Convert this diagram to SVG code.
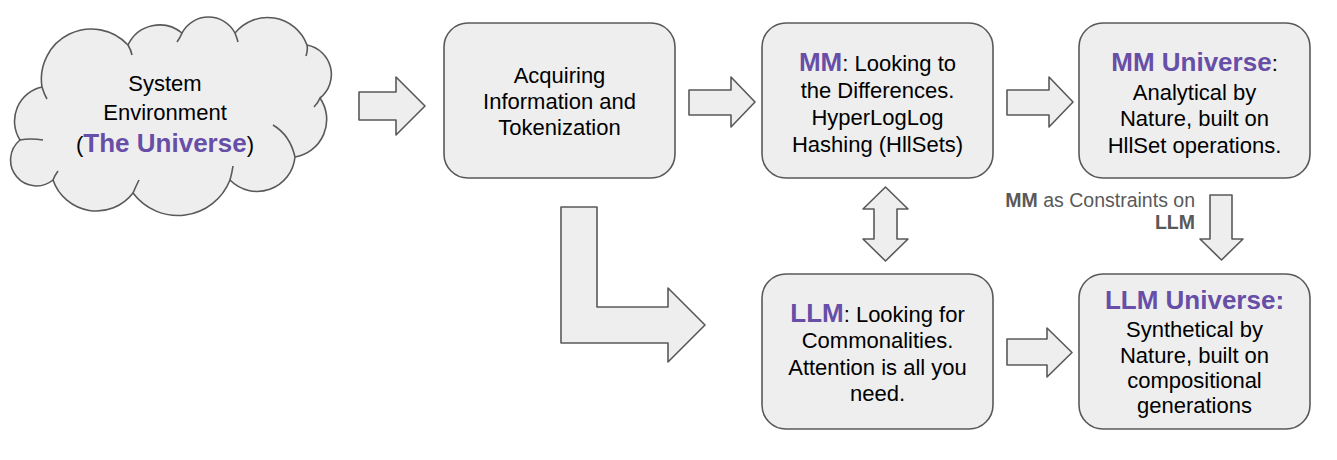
<svg xmlns="http://www.w3.org/2000/svg" width="1337" height="460" viewBox="0 0 1337 460">
<style>
.shape{fill:#eeeeee;stroke:#595959;stroke-width:1.6;stroke-linejoin:round}
.inner{fill:none;stroke:#595959;stroke-width:1.6}
.t{font-family:"Liberation Sans",Arial,sans-serif;font-size:22px;fill:#000;text-anchor:middle}
.p{fill:#674ea7;font-weight:bold;font-size:26px}
.lbl{font-family:"Liberation Sans",Arial,sans-serif;font-size:19.5px;fill:#595959;text-anchor:end}
</style>
<rect width="1337" height="460" fill="#ffffff"/>
<g id="cloud">
<path class="shape" d="M42,87 A50,50 0 0 1 128,45 A35,35 0 0 1 182,33 A30,30 0 0 1 235,33 A42,42 0 0 1 307,45 A30,30 0 0 1 320,98 A38,38 0 0 1 295,157 A38,38 0 0 1 230,180 A56,56 0 0 1 133,193 A46,46 0 0 1 53,180 A25,25 0 0 1 20,140 A35,35 0 0 1 42,87 Z"/>
<path class="inner" d="M128,45 Q131,50 132,55 M182,33 Q180,38 177,42 M235,33 Q237,38 238,42 M307,45 Q308,50 306,56 M320,98 Q318,103 314,107 M273,125 Q290,135 295,157 M230,180 Q232,173 233,166 M133,193 Q136,186 139,180 M53,180 Q55,175 58,171 M20,140 Q30,138 43,140 M42,87 Q44,94 47,99"/>
<text class="t" x="165" y="91">System</text>
<text class="t" x="165" y="120">Environment</text>
<text class="t" x="165" y="152">(<tspan class="p">The Universe</tspan>)</text>
</g>
<g id="acquiring">
<rect class="shape" x="444" y="23" width="231" height="155" rx="24"/>
<text class="t" x="559.5" y="83">Acquiring</text>
<text class="t" x="559.5" y="109">Information and</text>
<text class="t" x="559.5" y="135">Tokenization</text>
</g>
<g id="mm">
<rect class="shape" x="762" y="23" width="231" height="155" rx="24"/>
<text class="t" x="877.5" y="71"><tspan class="p">MM</tspan>: Looking to</text>
<text class="t" x="877.5" y="98">the Differences.</text>
<text class="t" x="877.5" y="125">HyperLogLog</text>
<text class="t" x="877.5" y="152">Hashing (HllSets)</text>
</g>
<g id="mm-universe">
<rect class="shape" x="1079" y="23" width="231" height="155" rx="24"/>
<text class="t" x="1194.5" y="71"><tspan class="p">MM Universe</tspan>:</text>
<text class="t" x="1194.5" y="100">Analytical by</text>
<text class="t" x="1194.5" y="126">Nature, built on</text>
<text class="t" x="1194.5" y="153">HllSet operations.</text>
</g>
<g id="llm">
<rect class="shape" x="762" y="274" width="231" height="155" rx="24"/>
<text class="t" x="877.5" y="322"><tspan class="p">LLM</tspan>: Looking for</text>
<text class="t" x="877.5" y="348">Commonalities.</text>
<text class="t" x="877.5" y="375">Attention is all you</text>
<text class="t" x="877.5" y="401">need.</text>
</g>
<g id="llm-universe">
<rect class="shape" x="1079" y="274" width="231" height="155" rx="24"/>
<text class="t" x="1194.5" y="309"><tspan class="p">LLM Universe:</tspan></text>
<text class="t" x="1194.5" y="337">Synthetical by</text>
<text class="t" x="1194.5" y="363">Nature, built on</text>
<text class="t" x="1194.5" y="388">compositional</text>
<text class="t" x="1194.5" y="413">generations</text>
</g>
<g id="connectors">
<polygon class="shape" points="359,92 396,92 396,77 425,106 396,135 396,120 359,120"/>
<polygon class="shape" points="689,90 731,90 731,77 755,102 731,127 731,115 689,115"/>
<polygon class="shape" points="1007,90 1049,90 1049,77 1073,102 1049,127 1049,115 1007,115"/>
<polygon class="shape" points="1007,339 1047,339 1047,328 1072,352.5 1047,377 1047,365 1007,365"/>
<polygon class="shape" points="885.5,187 908,209 897,209 897,239 908,239 885.5,261 863,239 874,239 874,209 863,209"/>
<polygon class="shape" points="1210,195 1232,195 1232,239 1243,239 1221.5,260 1200,239 1210,239"/>
<polygon class="shape" points="561,207 597,207 597,307 668,307 668,288 705,325 668,362 668,343 561,343"/>
<text class="lbl" x="1195" y="207"><tspan font-weight="bold">MM</tspan> as Constraints on</text>
<text class="lbl" x="1195" y="229" font-weight="bold">LLM</text>
</g>
</svg>
